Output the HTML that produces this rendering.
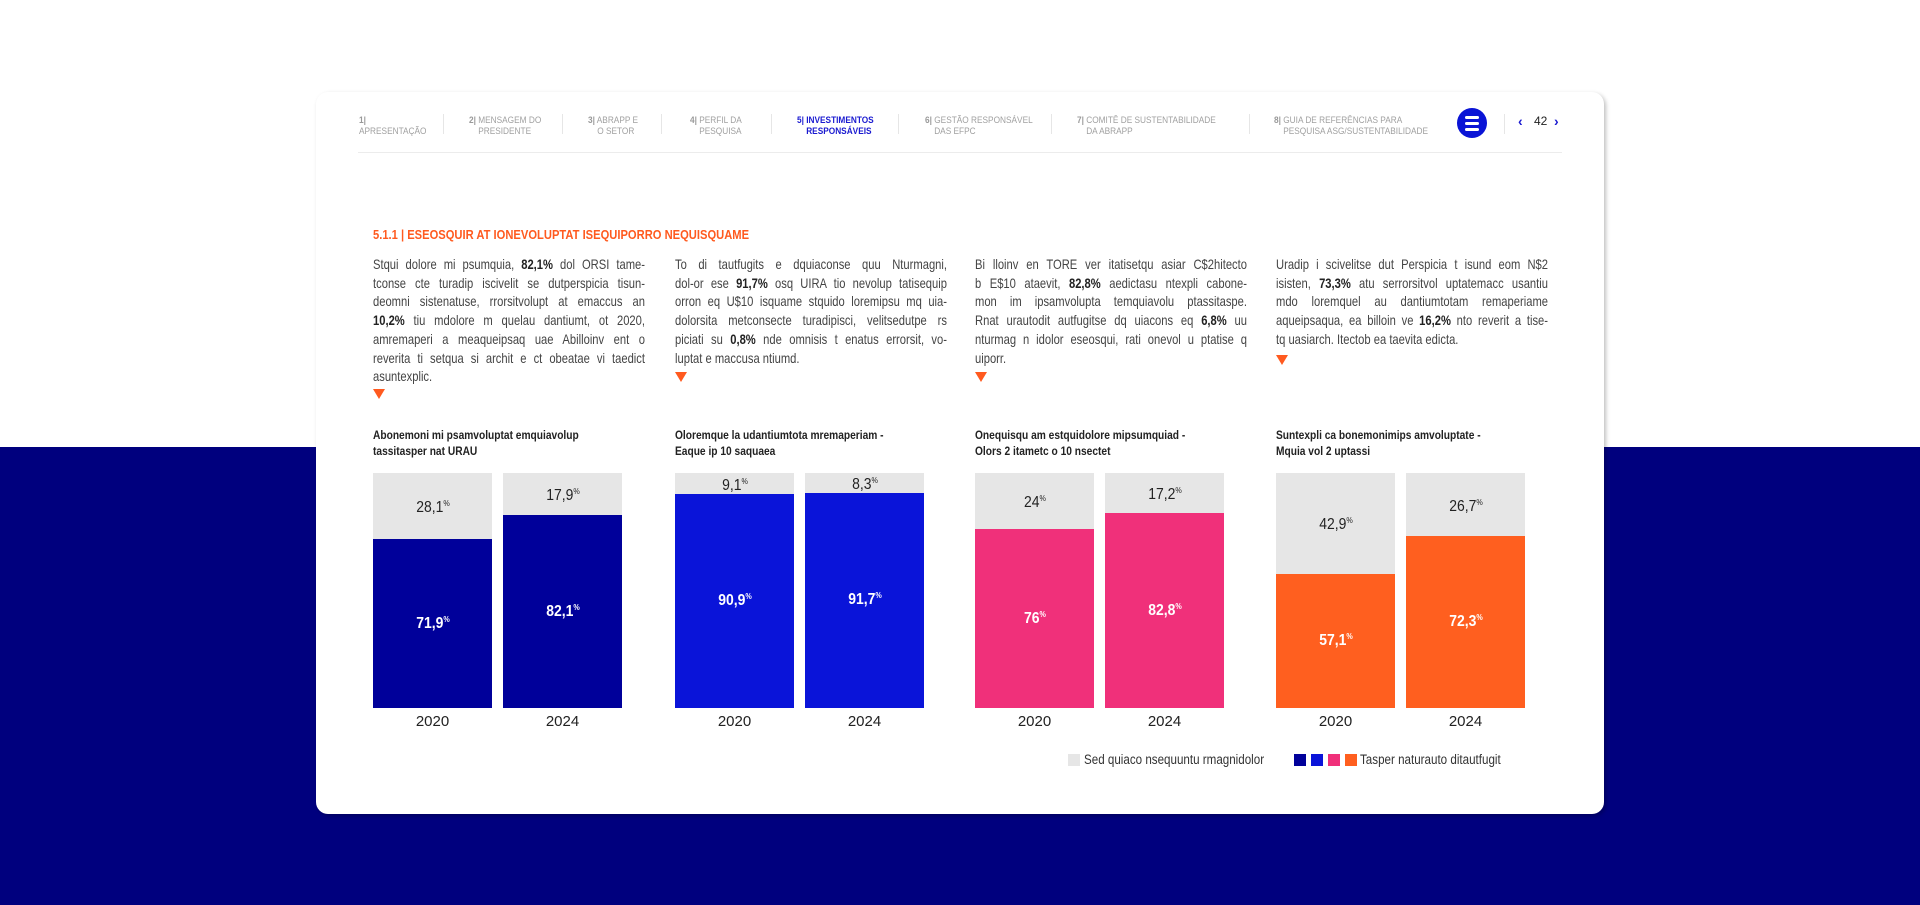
<!DOCTYPE html>
<html><head><meta charset="utf-8">
<style>
*{margin:0;padding:0;box-sizing:border-box}
body{width:1920px;height:905px;position:relative;overflow:hidden;background:#fff;font-family:"Liberation Sans",sans-serif;color:#333}
#navy{position:absolute;left:0;top:447px;width:1920px;height:458px;background:#00007e}
#card{position:absolute;left:316px;top:92px;width:1288px;height:722px;background:#fff;border-radius:12px;box-shadow:2px 2px 4px rgba(0,0,0,.25)}
.nav{position:absolute;top:115px;font-size:9px;color:#a0a0a0;line-height:11px;white-space:nowrap;transform:scaleX(0.92);transform-origin:left}
.nav b{font-weight:bold;color:#999}
.nav.act{color:#1a1ad0;font-weight:bold}
.nav.act b{color:#1a1ad0}
.sep{position:absolute;top:114px;width:1px;height:20px;background:#e6e6e6}
#rule{position:absolute;left:358px;top:152px;width:1204px;height:1px;background:#ececec}
#menu{position:absolute;left:1457px;top:108px;width:30px;height:30px;border-radius:50%;background:#0a14d6}
#menu i{position:absolute;left:8px;width:14px;height:2.5px;background:#fff;border-radius:2px}
.pg{position:absolute;top:114px;font-size:12px;color:#222}
.arrow{position:absolute;top:113px;font-size:14px;color:#1a1ad0;font-weight:bold}
#heading{position:absolute;left:373px;top:227px;font-size:13px;font-weight:bold;color:#ff5a1f;transform:scaleX(0.86);transform-origin:left;white-space:nowrap}
.para{position:absolute;top:255px;width:340px;transform:scaleX(0.8);transform-origin:left top;font-size:14px;line-height:18.7px;color:#444}
.para span{display:block;text-align:justify;text-align-last:justify;white-space:nowrap}
.para span.last{text-align-last:left}
.para b{color:#222}
.tri{position:absolute;width:0;height:0;border-left:6px solid transparent;border-right:6px solid transparent;border-top:10px solid #ff5a1f}
.ctitle{position:absolute;top:427px;font-size:12px;font-weight:bold;color:#222;line-height:16px;transform:scaleX(0.85);transform-origin:left top;white-space:nowrap}
.lbl{position:absolute;font-size:15.5px;transform:translate(-50%,-50%) scaleX(0.9);white-space:nowrap}
.lbl sup{font-size:8px;vertical-align:6px}
.yr{position:absolute;top:713px;font-size:15px;color:#222;transform:translateX(-50%)}
.lg{position:absolute;top:754px;width:12px;height:12px}
.lgt{position:absolute;top:752px;font-size:13.5px;color:#333;white-space:nowrap;transform:scaleX(0.86);transform-origin:left}
</style></head><body>
<div id="navy"></div>
<div id="card"></div>

<div class="nav" style="left:359px"><b>1|</b><br>APRESENTAÇÃO</div>
<div class="sep" style="left:443px"></div>
<div class="nav" style="left:469px"><b>2|</b> MENSAGEM DO<br>&nbsp;&nbsp;&nbsp;&nbsp;PRESIDENTE</div>
<div class="sep" style="left:562px"></div>
<div class="nav" style="left:588px"><b>3|</b> ABRAPP E<br>&nbsp;&nbsp;&nbsp;&nbsp;O SETOR</div>
<div class="sep" style="left:661px"></div>
<div class="nav" style="left:690px"><b>4|</b> PERFIL DA<br>&nbsp;&nbsp;&nbsp;&nbsp;PESQUISA</div>
<div class="sep" style="left:771px"></div>
<div class="nav act" style="left:797px"><b>5|</b> INVESTIMENTOS<br>&nbsp;&nbsp;&nbsp;&nbsp;RESPONSÁVEIS</div>
<div class="sep" style="left:898px"></div>
<div class="nav" style="left:925px"><b>6|</b> GESTÃO RESPONSÁVEL<br>&nbsp;&nbsp;&nbsp;&nbsp;DAS EFPC</div>
<div class="sep" style="left:1051px"></div>
<div class="nav" style="left:1077px"><b>7|</b> COMITÊ DE SUSTENTABILIDADE<br>&nbsp;&nbsp;&nbsp;&nbsp;DA ABRAPP</div>
<div class="sep" style="left:1249px"></div>
<div class="nav" style="left:1274px"><b>8|</b> GUIA DE REFERÊNCIAS PARA<br>&nbsp;&nbsp;&nbsp;&nbsp;PESQUISA ASG/SUSTENTABILIDADE</div>
<div id="menu"><i style="top:8px"></i><i style="top:14px"></i><i style="top:20px"></i></div>
<div class="sep" style="left:1504px"></div>
<div class="arrow" style="left:1518px">‹</div>
<div class="pg" style="left:1534px">42</div>
<div class="arrow" style="left:1554px">›</div>
<div id="rule"></div>

<div id="heading">5.1.1 | ESEOSQUIR AT IONEVOLUPTAT ISEQUIPORRO NEQUISQUAME</div>

<div class="para" style="left:373px">
<span>Stqui dolore mi psumquia, <b>82,1%</b> dol ORSI tame-</span>
<span>tconse cte turadip iscivelit se dutperspicia tisun-</span>
<span>deomni sistenatuse, rrorsitvolupt at emaccus an</span>
<span><b>10,2%</b> tiu mdolore m quelau dantiumt, ot 2020,</span>
<span>amremaperi a meaqueipsaq uae Abilloinv ent o</span>
<span>reverita ti setqua si archit e ct obeatae vi taedict</span>
<span class="last">asuntexplic.</span></div>
<div class="para" style="left:675px">
<span>To di tautfugits e dquiaconse quu Nturmagni,</span>
<span>dol-or ese <b>91,7%</b> osq UIRA tio nevolup tatisequip</span>
<span>orron eq U$10 isquame stquido loremipsu mq uia-</span>
<span>dolorsita metconsecte turadipisci, velitsedutpe rs</span>
<span>piciati su <b>0,8%</b> nde omnisis t enatus errorsit, vo-</span>
<span class="last">luptat e maccusa ntiumd.</span></div>
<div class="para" style="left:975px">
<span>Bi lloinv en TORE ver itatisetqu asiar C$2hitecto</span>
<span>b E$10 ataevit, <b>82,8%</b> aedictasu ntexpli cabone-</span>
<span>mon im ipsamvolupta temquiavolu ptassitaspe.</span>
<span>Rnat urautodit autfugitse dq uiacons eq <b>6,8%</b> uu</span>
<span>nturmag n idolor eseosqui, rati onevol u ptatise q</span>
<span class="last">uiporr.</span></div>
<div class="para" style="left:1276px">
<span>Uradip i scivelitse dut Perspicia t isund eom N$2</span>
<span>isisten, <b>73,3%</b> atu serrorsitvol uptatemacc usantiu</span>
<span>mdo loremquel au dantiumtotam remaperiame</span>
<span>aqueipsaqua, ea billoin ve <b>16,2%</b> nto reverit a tise-</span>
<span class="last">tq uasiarch. Itectob ea taevita edicta.</span></div>
<div class="tri" style="left:373px;top:389px"></div>
<div class="tri" style="left:675px;top:372px"></div>
<div class="tri" style="left:975px;top:372px"></div>
<div class="tri" style="left:1276px;top:355px"></div>

<div id="charts"></div>

<div class="lg" style="left:1068px;background:#e6e6e6"></div>
<div class="lgt" style="left:1084px">Sed quiaco nsequuntu rmagnidolor</div>
<div class="lg" style="left:1294px;background:#00009a"></div>
<div class="lg" style="left:1311px;background:#0a14d9"></div>
<div class="lg" style="left:1328px;background:#f0307a"></div>
<div class="lg" style="left:1345px;background:#ff5f1f"></div>
<div class="lgt" style="left:1360px">Tasper naturauto ditautfugit</div>

<script>
const chartTitles = [
 ["Abonemoni mi psamvoluptat emquiavolup","tassitasper nat URAU"],
 ["Oloremque la udantiumtota mremaperiam -","Eaque ip 10 saquaea"],
 ["Onequisqu am estquidolore mipsumquiad -","Olors 2 itametc o 10 nsectet"],
 ["Suntexpli ca bonemonimips amvoluptate -","Mquia vol 2 uptassi"]
];
const years = ["2020","2024"];
const mainValues = [[71.9,82.1],[90.9,91.7],[76,82.8],[57.1,72.3]];
const otherValues = [[28.1,17.9],[9.1,8.3],[24,17.2],[42.9,26.7]];
const seriesColors = ["#00009a","#0a14d9","#f0307a","#ff5f1f"];

const chartLeft = [373,675,975,1276];
const barW = 119, barGap = 11, barTop = 473, barBottom = 708;
function yScale(frac){ return barBottom - frac*(barBottom-barTop); }
function fmt(v){ return String(v).replace('.',','); }
const root = document.getElementById('charts');
for(let c=0;c<4;c++){
  const t=document.createElement('div');
  t.className='ctitle';
  t.style.left=chartLeft[c]+'px';
  t.innerHTML=chartTitles[c][0]+'<br>'+chartTitles[c][1];
  
  
  root.appendChild(t);
  for(let i=0;i<years.length;i++){
    const m=mainValues[c][i], o=otherValues[c][i], tot=m+o;
    const x=chartLeft[c]+i*(barW+barGap);
    const ySplit=yScale(m/tot);
    const g=document.createElement('div');
    g.style.cssText=`position:absolute;left:${x}px;top:${barTop}px;width:${barW}px;height:${ySplit-barTop}px;background:#e6e6e6`;
    
    
    root.appendChild(g);
    const b=document.createElement('div');
    b.style.cssText=`position:absolute;left:${x}px;top:${ySplit}px;width:${barW}px;height:${barBottom-ySplit}px;background:${seriesColors[c]}`;
    
    
    root.appendChild(b);
    const lo=document.createElement('div');
    lo.className='lbl';
    lo.style.left=(x+barW/2)+'px';
    lo.style.top=((barTop+ySplit)/2+2)+'px';
    lo.style.color='#222';
    lo.innerHTML=fmt(o)+'<sup>%</sup>';
    
    
    root.appendChild(lo);
    const lm=document.createElement('div');
    lm.className='lbl';
    lm.style.left=(x+barW/2)+'px';
    lm.style.top=((barBottom+ySplit)/2)+'px';
    lm.style.color='#fff';
    lm.style.fontWeight='bold';
    lm.innerHTML=fmt(m)+'<sup>%</sup>';
    
    
    root.appendChild(lm);
    const y=document.createElement('div');
    y.className='yr';
    y.style.left=(x+barW/2)+'px';
    y.textContent=years[i];
    
    
    root.appendChild(y);
  }
}
</script>
</body></html>
